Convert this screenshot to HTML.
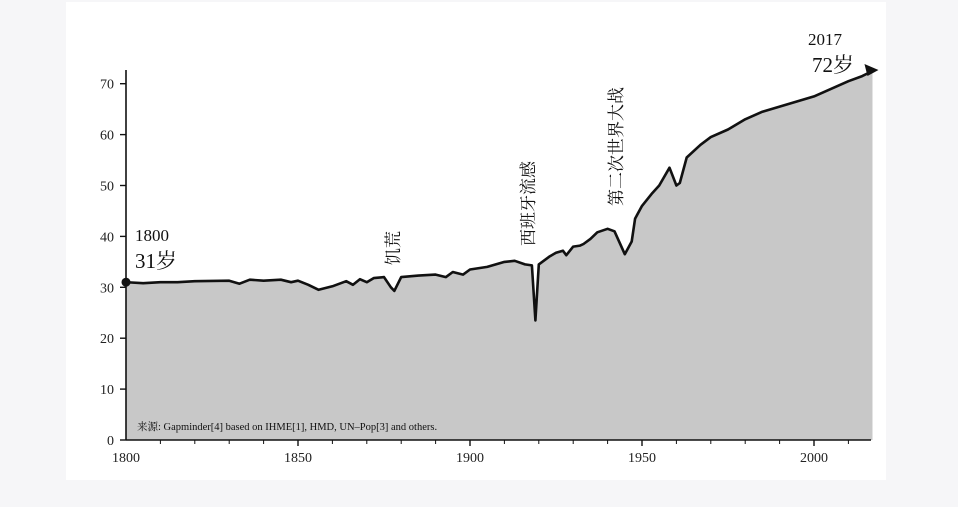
<!DOCTYPE html>
<html><head><meta charset="utf-8">
<style>
html,body{margin:0;padding:0;background:#f6f6f8;}
svg{display:block;font-family:"Liberation Serif","Noto Serif CJK SC",serif;}
</style></head>
<body>
<svg width="958" height="507" viewBox="0 0 958 507">
<rect x="66" y="2" width="820" height="478" fill="#ffffff"/>
<g id="plot"></g>
</svg>
<script>
const years=[1800,1805,1810,1815,1820,1830,1833,1836,1840,1845,1848,1850,1853,1856,1860,1864,1866,1868,1870,1872,1875,1877,1878,1880,1885,1890,1893,1895,1898,1900,1905,1910,1913,1916,1918,1919,1920,1923,1925,1927,1928,1930,1932,1933,1935,1937,1940,1942,1945,1947,1948,1950,1953,1955,1958,1960,1961,1963,1967,1970,1975,1980,1985,1990,1995,2000,2005,2010,2014,2017];
const lifeExp=[31,30.8,31,31,31.2,31.3,30.7,31.5,31.3,31.5,31,31.3,30.5,29.5,30.2,31.2,30.5,31.6,31,31.8,32,30,29.3,32,32.3,32.5,32,33,32.5,33.5,34,35,35.2,34.5,34.3,23.5,34.5,36,36.8,37.2,36.3,38,38.2,38.5,39.5,40.8,41.5,41,36.5,39,43.5,46,48.5,50,53.5,50,50.5,55.5,58,59.5,61,63,64.5,65.5,66.5,67.5,69,70.5,71.5,72.5];
const yTicks=[0,10,20,30,40,50,60,70];
const xTicks=[1800,1850,1900,1950,2000];
const X=y=>126+(y-1800)*3.44;
const Y=v=>440-v*5.09;
const NS="http://www.w3.org/2000/svg";
const g=document.getElementById('plot');
function mk(t,a,txt){const e=document.createElementNS(NS,t);for(const k in a)e.setAttribute(k,a[k]);if(txt!=null)e.textContent=txt;g.appendChild(e);return e;}
let pts=years.map((y,i)=>X(y).toFixed(1)+','+Y(lifeExp[i]).toFixed(1));
let area=mk('polygon',{points:X(years[0])+','+Y(0)+' '+pts.join(' ')+' '+X(years[years.length-1])+','+Y(0),fill:'#c8c8c8'});


let line=mk('polyline',{points:pts.join(' '),fill:'none',stroke:'#111','stroke-width':2.6,'stroke-linejoin':'round'});


// arrow head
const ex=X(years[years.length-1]),ey=Y(lifeExp[lifeExp.length-1]);
let ah=mk('polygon',{points:(ex+6)+','+(ey-1)+' '+(ex-8)+','+(ey-7)+' '+(ex-5)+','+(ey+5),fill:'#111'});


let dot=mk('circle',{cx:X(years[0]),cy:Y(lifeExp[0]),r:4.5,fill:'#111'});


// axes
let ya=mk('line',{x1:126,y1:Y(0),x2:126,y2:70,stroke:'#111','stroke-width':1.6});


let xa=mk('line',{x1:126,y1:Y(0),x2:871,y2:Y(0),stroke:'#111','stroke-width':1.6});


yTicks.forEach(v=>{
 let t=mk('line',{x1:120,y1:Y(v),x2:126,y2:Y(v),stroke:'#111','stroke-width':1.4});
 
 
 let l=mk('text',{x:114,y:Y(v)+5,'text-anchor':'end','font-size':14,fill:'#222'},v);
 
 
});
for(let y=1810;y<=2010;y+=10){
 let big=y%50===0;
 let t=mk('line',{x1:X(y),y1:Y(0),x2:X(y),y2:Y(0)+(big?6:4),stroke:'#111','stroke-width':big?1.4:1});
 
 
}
xTicks.forEach(y=>{
 let l=mk('text',{x:X(y),y:Y(0)+22,'text-anchor':'middle','font-size':14,fill:'#222'},y);
 
 
});
function lab(x,y,s,txt,name,rot){
 let a={x:x,y:y,'font-size':s,fill:'#111'};
 if(rot){a.transform='rotate(-90 '+x+' '+y+')';}
 let e=mk('text',a,txt);
 
 
}
lab(135,241,17,'1800','start-year-label');
lab(135,268,21,'31岁','start-age-label');
lab(808,45,17,'2017','end-year-label');
lab(812,72,21,'72岁','end-age-label');
lab(399,265,17,'饥荒','famine-annotation',true);
lab(534,246,17,'西班牙流感','spanish-flu-annotation',true);
lab(622,206,17,'第二次世界大战','ww2-annotation',true);
lab(137,430,10.5,'来源: Gapminder[4] based on IHME[1], HMD, UN–Pop[3] and others.','source-note');
</script>
</body></html>
